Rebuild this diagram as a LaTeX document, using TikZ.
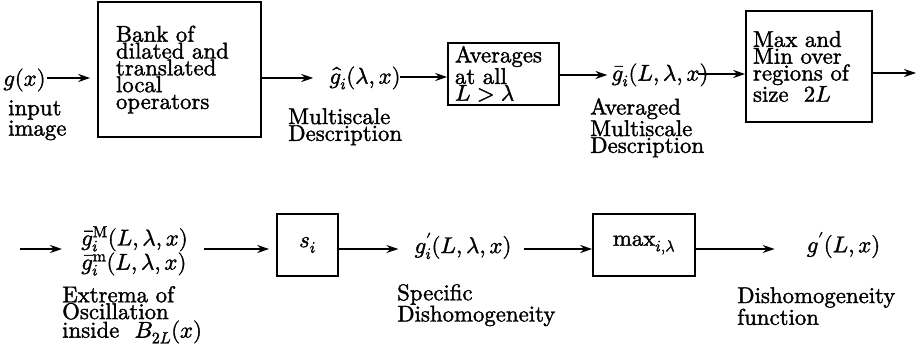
\documentclass[tikz,border=0pt]{standalone}
\usepackage{fontspec}
\usepackage{unicode-math}
\setmainfont{lmroman10-regular.otf}[FakeBold=1.6]
\setmathfont{latinmodern-math.otf}[FakeBold=1.6]
\usetikzlibrary{arrows.meta}
\begin{document}
\begin{tikzpicture}[x=1pt,y=1pt,
  fnt/.style={font=\fontsize{22.8}{16.8}\selectfont},
  blk/.style={draw,line width=1.6pt,fnt,align=left,inner sep=0pt},
  lbl/.style={fnt,align=left,inner sep=0pt,anchor=north west},
  mth/.style={fnt,inner sep=0pt},
  arr/.style={-{Stealth[length=12pt,width=8pt]},line width=1.6pt}]
\useasboundingbox (0,0) rectangle (920,346);
% row 1
\node[mth] (gx) at (24.5,266) {$g(x)$};
\node[lbl] (inimg) at (8,246) {input\\image};
\node[blk,minimum width=163,minimum height=135,text width=127] (b1) at (179.5,276.5)
  {Bank of\\dilated and\\translated\\local\\operators};
\node[mth] (gh) at (365,268) {$\hat g_i(\lambda,x)$};
\node[lbl] (msd) at (288,238) {Multiscale\\Description};
\node[blk,minimum width=111,minimum height=62,text width=97] (b2) at (503.5,272)
  {Averages\\at all\\$L>\lambda$};
\node[mth] (gb) at (660,271) {$\bar g_i(L,\lambda,x)$};
\node[lbl] (amsd) at (590,248) {Averaged\\Multiscale\\Description};
\node[blk,minimum width=126,minimum height=111,text width=112] (b3) at (809,279.5)
  {Max and\\Min over\\regions of\\size\ \ $2L$};
\coordinate (r1end) at (916,273);
\draw[arr] ([xshift=1]gx.east |- 0,268) -- ([xshift=-7]b1.west |- 0,268);
\draw[arr] (b1.east |- 0,268) -- ([xshift=-16]gh.west |- 0,268);
\draw[arr] ([xshift=-1]gh.east |- 0,269) -- (b2.west |- 0,269);
\draw[arr] (b2.east |- 0,271) -- ([xshift=-4]gb.west |- 0,271);
\draw[arr] ([xshift=-11]gb.east |- 0,272) -- (b3.west |- 0,272);
\draw[arr] (b3.east |- r1end) -- (r1end);
% row 2
\coordinate (r2start) at (20,97);
\coordinate (r2a) at (62,97);
\node[mth,align=left,font=\fontsize{22.8}{21}\selectfont] (gm) at (134.5,95)
  {$\bar g_i^{\mathrm{M}}(L,\lambda,x)$\\$\bar g_i^{\mathrm{m}}(L,\lambda,x)$};
\node[lbl] (ext) at (62,60) {Extrema of\\Oscillation\\inside\ \ $B_{2L}(x)$};
\node[blk,minimum width=61,minimum height=62,align=center] (bs) at (307.5,101) {$s_i$};
\node[mth] (gp) at (463,100) {$g_i^{\prime}(L,\lambda,x)$};
\node[lbl] (sd) at (397,62) {Specific\\Dishomogeneity};
\node[blk,minimum width=102,minimum height=62,align=center] (bm) at (644,101) {$\max_{i,\lambda}$};
\node[mth] (gf) at (843.5,101) {$g^{\prime}(L,x)$};
\node[lbl] (df) at (737,59) {Dishomogeneity\\function};
\draw[arr] (r2start) -- (r2a);
\draw[arr] ([xshift=16]gm.east |- r2start) -- ([xshift=-7]bs.west |- r2start);
\draw[arr] (bs.east |- r2start) -- ([xshift=-16]gp.west |- r2start);
\draw[arr] ([xshift=12]gp.east |- r2start) -- (bm.west |- r2start);
\draw[arr] (bm.east |- r2start) -- ([xshift=-32]gf.west |- r2start);
\end{tikzpicture}
\end{document}
